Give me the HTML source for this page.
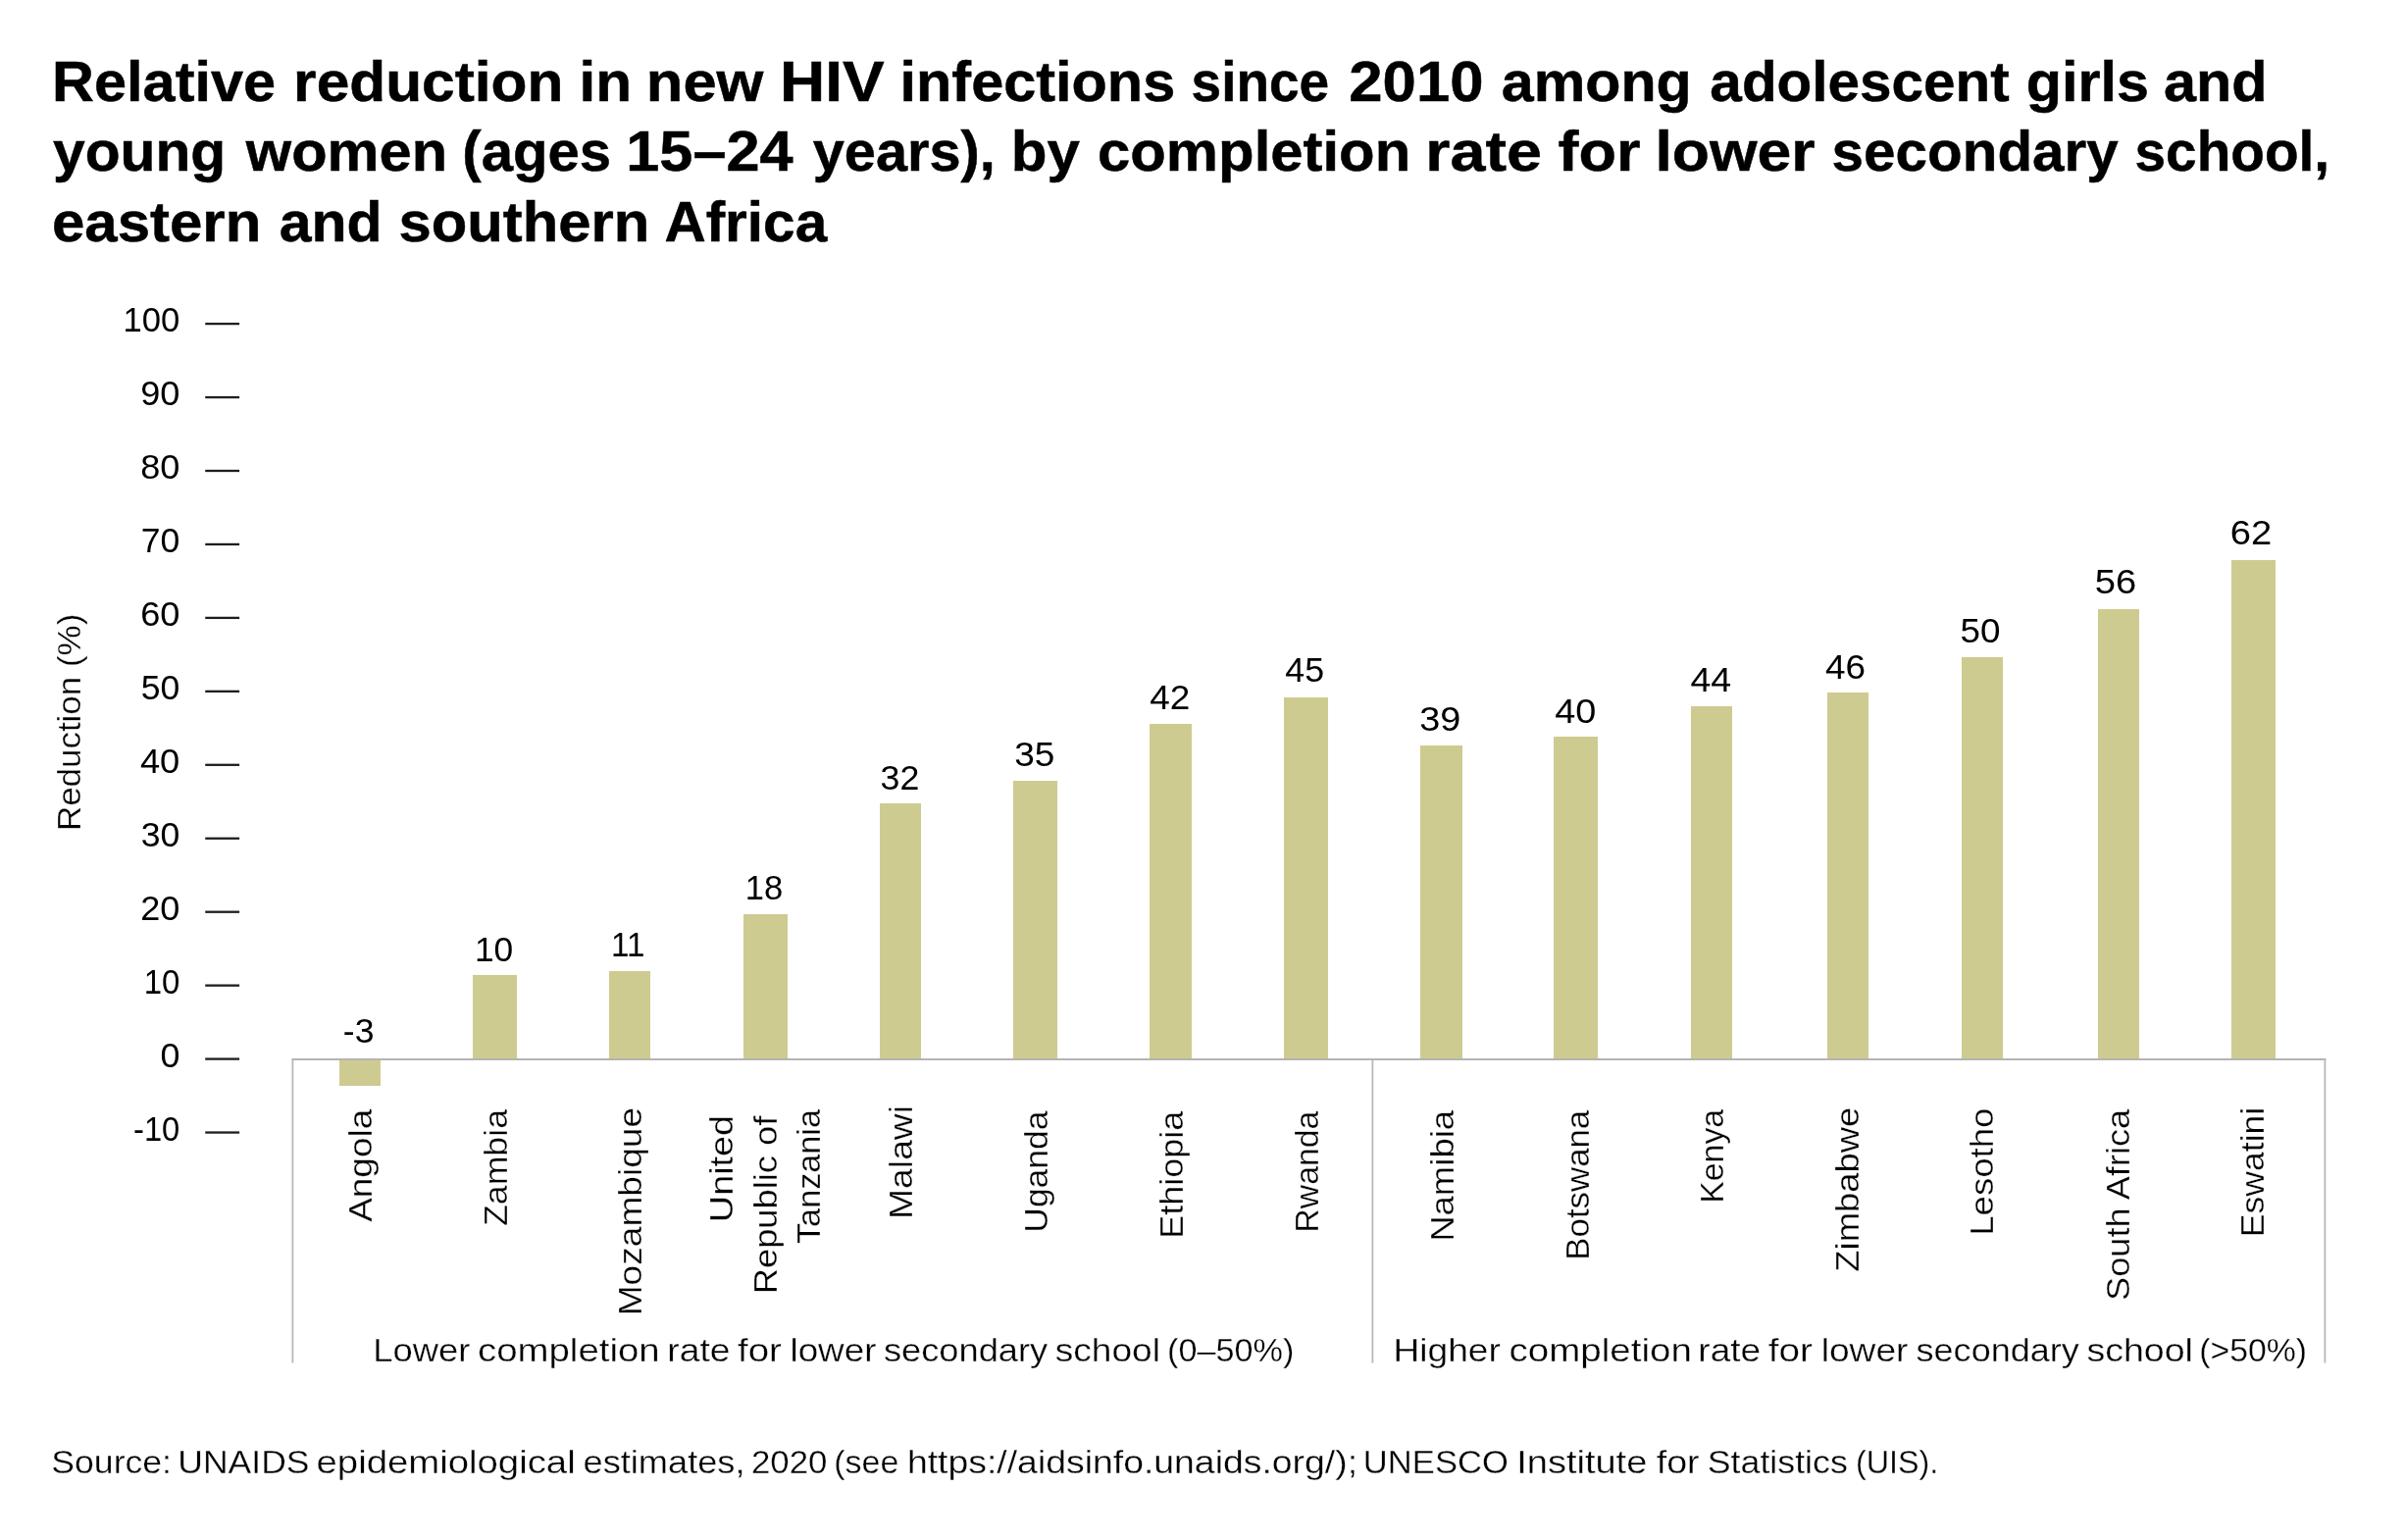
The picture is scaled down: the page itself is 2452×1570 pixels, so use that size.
<!DOCTYPE html>
<html><head><meta charset="utf-8"><title>Relative reduction in new HIV infections</title>
<style>
html,body{margin:0;padding:0;background:#fff;}
body{width:2452px;height:1570px;overflow:hidden;}
svg{display:block;will-change:transform;}
text{font-family:"Liberation Sans", sans-serif;fill:#000;stroke:#fff;stroke-width:0.3px;}
text.b{stroke:#000;stroke-width:0.5px;}
text.d{stroke:none;}
</style></head><body>
<svg width="2452" height="1570" viewBox="0 0 2452 1570">
<rect x="0" y="0" width="2452" height="1570" fill="#fff"/>
<rect x="346" y="1080" width="42" height="27" fill="#cecb90"/>
<rect x="482" y="994" width="45" height="86" fill="#cecb90"/>
<rect x="621" y="990" width="42" height="90" fill="#cecb90"/>
<rect x="758" y="932" width="45" height="148" fill="#cecb90"/>
<rect x="897" y="819" width="42" height="261" fill="#cecb90"/>
<rect x="1033" y="796" width="45" height="284" fill="#cecb90"/>
<rect x="1172" y="738" width="43" height="342" fill="#cecb90"/>
<rect x="1309" y="711" width="45" height="369" fill="#cecb90"/>
<rect x="1448" y="760" width="43" height="320" fill="#cecb90"/>
<rect x="1584" y="751" width="45" height="329" fill="#cecb90"/>
<rect x="1724" y="720" width="42" height="360" fill="#cecb90"/>
<rect x="1863" y="706" width="42" height="374" fill="#cecb90"/>
<rect x="2000" y="670" width="42" height="410" fill="#cecb90"/>
<rect x="2139" y="621" width="42" height="459" fill="#cecb90"/>
<rect x="2275" y="571" width="45" height="509" fill="#cecb90"/>
<rect x="209.25" y="1153.40" width="34.85" height="2.3" fill="#1e1e1e"/>
<rect x="209.25" y="1078.45" width="34.85" height="2.3" fill="#1e1e1e"/>
<rect x="209.25" y="1003.50" width="34.85" height="2.3" fill="#1e1e1e"/>
<rect x="209.25" y="928.55" width="34.85" height="2.3" fill="#1e1e1e"/>
<rect x="209.25" y="853.60" width="34.85" height="2.3" fill="#1e1e1e"/>
<rect x="209.25" y="778.65" width="34.85" height="2.3" fill="#1e1e1e"/>
<rect x="209.25" y="703.70" width="34.85" height="2.3" fill="#1e1e1e"/>
<rect x="209.25" y="628.75" width="34.85" height="2.3" fill="#1e1e1e"/>
<rect x="209.25" y="553.80" width="34.85" height="2.3" fill="#1e1e1e"/>
<rect x="209.25" y="478.85" width="34.85" height="2.3" fill="#1e1e1e"/>
<rect x="209.25" y="403.90" width="34.85" height="2.3" fill="#1e1e1e"/>
<rect x="209.25" y="328.95" width="34.85" height="2.3" fill="#1e1e1e"/>
<rect x="297.5" y="1079" width="2074" height="2" fill="#b4b4b4"/>
<rect x="297.50" y="1080" width="1.8" height="309.5" fill="#b8b8b8"/>
<rect x="1398.50" y="1080" width="1.8" height="309.5" fill="#b8b8b8"/>
<rect x="2369.50" y="1080" width="1.8" height="309.5" fill="#b8b8b8"/>
<text id="t0_0" class="b" x="53.13" y="102.90" font-size="57" font-weight="700" textLength="227.91" lengthAdjust="spacingAndGlyphs">Relative</text>
<text id="t0_1" class="b" x="299.12" y="102.90" font-size="57" font-weight="700" textLength="275.37" lengthAdjust="spacingAndGlyphs">reduction</text>
<text id="t0_2" class="b" x="590.64" y="102.90" font-size="57" font-weight="700" textLength="53.56" lengthAdjust="spacingAndGlyphs">in</text>
<text id="t0_3" class="b" x="658.88" y="102.90" font-size="57" font-weight="700" textLength="119.53" lengthAdjust="spacingAndGlyphs">new</text>
<text id="t0_4" class="b" x="795.03" y="102.90" font-size="57" font-weight="700" textLength="106.59" lengthAdjust="spacingAndGlyphs">HIV</text>
<text id="t0_5" class="b" x="917.52" y="102.90" font-size="57" font-weight="700" textLength="280.73" lengthAdjust="spacingAndGlyphs">infections</text>
<text id="t0_6" class="b" x="1214.56" y="102.90" font-size="57" font-weight="700" textLength="140.68" lengthAdjust="spacingAndGlyphs">since</text>
<text id="t0_7" class="b" x="1375.34" y="102.90" font-size="57" font-weight="700" textLength="137.12" lengthAdjust="spacingAndGlyphs">2010</text>
<text id="t0_8" class="b" x="1530.75" y="102.90" font-size="57" font-weight="700" textLength="193.93" lengthAdjust="spacingAndGlyphs">among</text>
<text id="t0_9" class="b" x="1743.39" y="102.90" font-size="57" font-weight="700" textLength="305.41" lengthAdjust="spacingAndGlyphs">adolescent</text>
<text id="t0_10" class="b" x="2065.89" y="102.90" font-size="57" font-weight="700" textLength="125.18" lengthAdjust="spacingAndGlyphs">girls</text>
<text id="t0_11" class="b" x="2206.11" y="102.90" font-size="57" font-weight="700" textLength="105.48" lengthAdjust="spacingAndGlyphs">and</text>
<text id="t1_0" class="b" x="54.00" y="174.30" font-size="57" font-weight="700" textLength="176.28" lengthAdjust="spacingAndGlyphs">young</text>
<text id="t1_1" class="b" x="250.80" y="174.30" font-size="57" font-weight="700" textLength="205.25" lengthAdjust="spacingAndGlyphs">women</text>
<text id="t1_2" class="b" x="471.33" y="174.30" font-size="57" font-weight="700" textLength="151.76" lengthAdjust="spacingAndGlyphs">(ages</text>
<text id="t1_3" class="b" x="638.32" y="174.30" font-size="57" font-weight="700" textLength="170.29" lengthAdjust="spacingAndGlyphs">15–24</text>
<text id="t1_4" class="b" x="828.78" y="174.30" font-size="57" font-weight="700" textLength="186.09" lengthAdjust="spacingAndGlyphs">years),</text>
<text id="t1_5" class="b" x="1030.80" y="174.30" font-size="57" font-weight="700" textLength="70.20" lengthAdjust="spacingAndGlyphs">by</text>
<text id="t1_6" class="b" x="1118.97" y="174.30" font-size="57" font-weight="700" textLength="319.29" lengthAdjust="spacingAndGlyphs">completion</text>
<text id="t1_7" class="b" x="1453.39" y="174.30" font-size="57" font-weight="700" textLength="118.71" lengthAdjust="spacingAndGlyphs">rate</text>
<text id="t1_8" class="b" x="1588.58" y="174.30" font-size="57" font-weight="700" textLength="84.04" lengthAdjust="spacingAndGlyphs">for</text>
<text id="t1_9" class="b" x="1687.50" y="174.30" font-size="57" font-weight="700" textLength="163.11" lengthAdjust="spacingAndGlyphs">lower</text>
<text id="t1_10" class="b" x="1867.58" y="174.30" font-size="57" font-weight="700" textLength="292.22" lengthAdjust="spacingAndGlyphs">secondary</text>
<text id="t1_11" class="b" x="2176.56" y="174.30" font-size="57" font-weight="700" textLength="198.52" lengthAdjust="spacingAndGlyphs">school,</text>
<text id="t2_0" class="b" x="52.96" y="246.40" font-size="57" font-weight="700" textLength="213.33" lengthAdjust="spacingAndGlyphs">eastern</text>
<text id="t2_1" class="b" x="284.71" y="246.40" font-size="57" font-weight="700" textLength="104.84" lengthAdjust="spacingAndGlyphs">and</text>
<text id="t2_2" class="b" x="406.55" y="246.40" font-size="57" font-weight="700" textLength="255.74" lengthAdjust="spacingAndGlyphs">southern</text>
<text id="t2_3" class="b" x="677.40" y="246.40" font-size="57" font-weight="700" textLength="165.81" lengthAdjust="spacingAndGlyphs">Africa</text>
<text id="yt110" class="d" transform="translate(0 337.85) scale(1 1.100)" x="125.53" y="0" font-size="32" font-weight="400" textLength="57.77" lengthAdjust="spacingAndGlyphs">100</text>
<text id="yt100" class="d" transform="translate(0 412.85) scale(1 1.100)" x="143.21" y="0" font-size="32" font-weight="400" textLength="40.16" lengthAdjust="spacingAndGlyphs">90</text>
<text id="yt90" class="d" transform="translate(0 487.85) scale(1 1.100)" x="143.19" y="0" font-size="32" font-weight="400" textLength="40.16" lengthAdjust="spacingAndGlyphs">80</text>
<text id="yt80" class="d" transform="translate(0 562.85) scale(1 1.100)" x="143.78" y="0" font-size="32" font-weight="400" textLength="39.56" lengthAdjust="spacingAndGlyphs">70</text>
<text id="yt70" class="d" transform="translate(0 637.85) scale(1 1.100)" x="143.15" y="0" font-size="32" font-weight="400" textLength="40.22" lengthAdjust="spacingAndGlyphs">60</text>
<text id="yt60" class="d" transform="translate(0 712.85) scale(1 1.100)" x="143.82" y="0" font-size="32" font-weight="400" textLength="39.51" lengthAdjust="spacingAndGlyphs">50</text>
<text id="yt50" class="d" transform="translate(0 787.85) scale(1 1.100)" x="142.93" y="0" font-size="32" font-weight="400" textLength="40.38" lengthAdjust="spacingAndGlyphs">40</text>
<text id="yt40" class="d" transform="translate(0 862.85) scale(1 1.100)" x="143.80" y="0" font-size="32" font-weight="400" textLength="39.56" lengthAdjust="spacingAndGlyphs">30</text>
<text id="yt30" class="d" transform="translate(0 937.85) scale(1 1.100)" x="143.22" y="0" font-size="32" font-weight="400" textLength="40.12" lengthAdjust="spacingAndGlyphs">20</text>
<text id="yt20" class="d" transform="translate(0 1012.85) scale(1 1.100)" x="146.65" y="0" font-size="32" font-weight="400" textLength="36.69" lengthAdjust="spacingAndGlyphs">10</text>
<text id="yt10" class="d" transform="translate(0 1087.85) scale(1 1.100)" x="163.54" y="0" font-size="32" font-weight="400" textLength="19.92" lengthAdjust="spacingAndGlyphs">0</text>
<text id="yt0" class="d" transform="translate(0 1162.85) scale(1 1.100)" x="136.05" y="0" font-size="32" font-weight="400" textLength="47.24" lengthAdjust="spacingAndGlyphs">-10</text>
<text id="v0" class="d" transform="translate(0 1063.40) scale(1 1.100)" x="349.84" y="0" font-size="32" font-weight="400" textLength="31.64" lengthAdjust="spacingAndGlyphs">-3</text>
<text id="v1" class="d" transform="translate(0 979.80) scale(1 1.100)" x="483.99" y="0" font-size="32" font-weight="400" textLength="39.29" lengthAdjust="spacingAndGlyphs">10</text>
<text id="v2" class="d" transform="translate(0 974.80) scale(1 1.100)" x="622.96" y="0" font-size="32" font-weight="400" textLength="34.38" lengthAdjust="spacingAndGlyphs">11</text>
<text id="v3" class="d" transform="translate(0 916.70) scale(1 1.100)" x="759.82" y="0" font-size="32" font-weight="400" textLength="38.46" lengthAdjust="spacingAndGlyphs">18</text>
<text id="v4" class="d" transform="translate(0 804.70) scale(1 1.100)" x="897.59" y="0" font-size="32" font-weight="400" textLength="39.78" lengthAdjust="spacingAndGlyphs">32</text>
<text id="v5" class="d" transform="translate(0 781.00) scale(1 1.100)" x="1034.19" y="0" font-size="32" font-weight="400" textLength="41.21" lengthAdjust="spacingAndGlyphs">35</text>
<text id="v6" class="d" transform="translate(0 722.90) scale(1 1.100)" x="1172.31" y="0" font-size="32" font-weight="400" textLength="41.09" lengthAdjust="spacingAndGlyphs">42</text>
<text id="v7" class="d" transform="translate(0 694.90) scale(1 1.100)" x="1310.34" y="0" font-size="32" font-weight="400" textLength="39.83" lengthAdjust="spacingAndGlyphs">45</text>
<text id="v8" class="d" transform="translate(0 745.30) scale(1 1.100)" x="1447.36" y="0" font-size="32" font-weight="400" textLength="42.04" lengthAdjust="spacingAndGlyphs">39</text>
<text id="v9" class="d" transform="translate(0 737.40) scale(1 1.100)" x="1585.29" y="0" font-size="32" font-weight="400" textLength="42.07" lengthAdjust="spacingAndGlyphs">40</text>
<text id="v10" class="d" transform="translate(0 704.90) scale(1 1.100)" x="1723.49" y="0" font-size="32" font-weight="400" textLength="41.79" lengthAdjust="spacingAndGlyphs">44</text>
<text id="v11" class="d" transform="translate(0 692.40) scale(1 1.100)" x="1860.93" y="0" font-size="32" font-weight="400" textLength="41.01" lengthAdjust="spacingAndGlyphs">46</text>
<text id="v12" class="d" transform="translate(0 655.20) scale(1 1.100)" x="1998.58" y="0" font-size="32" font-weight="400" textLength="40.96" lengthAdjust="spacingAndGlyphs">50</text>
<text id="v13" class="d" transform="translate(0 604.50) scale(1 1.100)" x="2135.77" y="0" font-size="32" font-weight="400" textLength="42.40" lengthAdjust="spacingAndGlyphs">56</text>
<text id="v14" class="d" transform="translate(0 555.40) scale(1 1.100)" x="2273.76" y="0" font-size="32" font-weight="400" textLength="42.47" lengthAdjust="spacingAndGlyphs">62</text>
<text id="c0" transform="translate(379.30 1245.82) rotate(-90)" x="0" y="0" font-size="33" font-weight="400" textLength="115.02" lengthAdjust="spacingAndGlyphs">Angola</text>
<text id="c1" transform="translate(516.60 1250.02) rotate(-90)" x="0" y="0" font-size="33" font-weight="400" textLength="119.02" lengthAdjust="spacingAndGlyphs">Zambia</text>
<text id="c2" transform="translate(654.30 1341.28) rotate(-90)" x="0" y="0" font-size="33" font-weight="400" textLength="212.32" lengthAdjust="spacingAndGlyphs">Mozambique</text>
<text id="c4" transform="translate(929.90 1242.94) rotate(-90)" x="0" y="0" font-size="33" font-weight="400" textLength="116.03" lengthAdjust="spacingAndGlyphs">Malawi</text>
<text id="c5" transform="translate(1068.30 1256.67) rotate(-90)" x="0" y="0" font-size="33" font-weight="400" textLength="124.07" lengthAdjust="spacingAndGlyphs">Uganda</text>
<text id="c6" transform="translate(1206.30 1262.85) rotate(-90)" x="0" y="0" font-size="33" font-weight="400" textLength="130.26" lengthAdjust="spacingAndGlyphs">Ethiopia</text>
<text id="c7" transform="translate(1344.00 1256.65) rotate(-90)" x="0" y="0" font-size="33" font-weight="400" textLength="124.04" lengthAdjust="spacingAndGlyphs">Rwanda</text>
<text id="c8" transform="translate(1481.70 1265.87) rotate(-90)" x="0" y="0" font-size="33" font-weight="400" textLength="134.07" lengthAdjust="spacingAndGlyphs">Namibia</text>
<text id="c9" transform="translate(1619.60 1284.64) rotate(-90)" x="0" y="0" font-size="33" font-weight="400" textLength="152.85" lengthAdjust="spacingAndGlyphs">Botswana</text>
<text id="c10" transform="translate(1756.80 1226.87) rotate(-90)" x="0" y="0" font-size="33" font-weight="400" textLength="96.08" lengthAdjust="spacingAndGlyphs">Kenya</text>
<text id="c11" transform="translate(1895.00 1296.63) rotate(-90)" x="0" y="0" font-size="33" font-weight="400" textLength="167.87" lengthAdjust="spacingAndGlyphs">Zimbabwe</text>
<text id="c12" transform="translate(2032.30 1259.73) rotate(-90)" x="0" y="0" font-size="33" font-weight="400" textLength="130.01" lengthAdjust="spacingAndGlyphs">Lesotho</text>
<text id="c13" transform="translate(2170.50 1326.02) rotate(-90)" x="0" y="0" font-size="33" font-weight="400" textLength="195.22" lengthAdjust="spacingAndGlyphs">South Africa</text>
<text id="c14" transform="translate(2307.70 1261.13) rotate(-90)" x="0" y="0" font-size="33" font-weight="400" textLength="132.42" lengthAdjust="spacingAndGlyphs">Eswatini</text>
<text id="tz0" transform="translate(746.60 1246.15) rotate(-90)" x="0" y="0" font-size="33" font-weight="400" textLength="109.26" lengthAdjust="spacingAndGlyphs">United</text>
<text id="tz1" transform="translate(791.50 1319.25) rotate(-90)" x="0" y="0" font-size="33" font-weight="400" textLength="181.64" lengthAdjust="spacingAndGlyphs">Republic of</text>
<text id="tz2" transform="translate(836.40 1268.01) rotate(-90)" x="0" y="0" font-size="33" font-weight="400" textLength="137.01" lengthAdjust="spacingAndGlyphs">Tanzania</text>
<text id="g0_0" x="380.23" y="1388.40" font-size="33" font-weight="400" textLength="99.23" lengthAdjust="spacingAndGlyphs">Lower</text>
<text id="g0_1" x="486.94" y="1388.40" font-size="33" font-weight="400" textLength="185.74" lengthAdjust="spacingAndGlyphs">completion</text>
<text id="g0_2" x="680.33" y="1388.40" font-size="33" font-weight="400" textLength="64.25" lengthAdjust="spacingAndGlyphs">rate</text>
<text id="g0_3" x="751.98" y="1388.40" font-size="33" font-weight="400" textLength="44.87" lengthAdjust="spacingAndGlyphs">for</text>
<text id="g0_4" x="805.46" y="1388.40" font-size="33" font-weight="400" textLength="87.99" lengthAdjust="spacingAndGlyphs">lower</text>
<text id="g0_5" x="900.98" y="1388.40" font-size="33" font-weight="400" textLength="167.23" lengthAdjust="spacingAndGlyphs">secondary</text>
<text id="g0_6" x="1075.74" y="1388.40" font-size="33" font-weight="400" textLength="107.21" lengthAdjust="spacingAndGlyphs">school</text>
<text id="g0_7" x="1190.09" y="1388.40" font-size="33" font-weight="400" textLength="129.21" lengthAdjust="spacingAndGlyphs">(0–50%)</text>
<text id="g1_0" x="1420.48" y="1388.40" font-size="33" font-weight="400" textLength="109.37" lengthAdjust="spacingAndGlyphs">Higher</text>
<text id="g1_1" x="1538.55" y="1388.40" font-size="33" font-weight="400" textLength="186.32" lengthAdjust="spacingAndGlyphs">completion</text>
<text id="g1_2" x="1731.36" y="1388.40" font-size="33" font-weight="400" textLength="63.81" lengthAdjust="spacingAndGlyphs">rate</text>
<text id="g1_3" x="1802.77" y="1388.40" font-size="33" font-weight="400" textLength="45.26" lengthAdjust="spacingAndGlyphs">for</text>
<text id="g1_4" x="1856.68" y="1388.40" font-size="33" font-weight="400" textLength="88.78" lengthAdjust="spacingAndGlyphs">lower</text>
<text id="g1_5" x="1953.57" y="1388.40" font-size="33" font-weight="400" textLength="166.25" lengthAdjust="spacingAndGlyphs">secondary</text>
<text id="g1_6" x="2127.51" y="1388.40" font-size="33" font-weight="400" textLength="108.41" lengthAdjust="spacingAndGlyphs">school</text>
<text id="g1_7" x="2242.28" y="1388.40" font-size="33" font-weight="400" textLength="109.84" lengthAdjust="spacingAndGlyphs">(&gt;50%)</text>
<text id="yax" transform="translate(82.40 847.09) rotate(-90)" x="0" y="0" font-size="33" font-weight="400" textLength="221.36" lengthAdjust="spacingAndGlyphs">Reduction (%)</text>
<text id="s_0" x="52.30" y="1501.80" font-size="33" font-weight="400" textLength="122.70" lengthAdjust="spacingAndGlyphs">Source:</text>
<text id="s_1" x="181.30" y="1501.80" font-size="33" font-weight="400" textLength="134.16" lengthAdjust="spacingAndGlyphs">UNAIDS</text>
<text id="s_2" x="322.55" y="1501.80" font-size="33" font-weight="400" textLength="264.12" lengthAdjust="spacingAndGlyphs">epidemiological</text>
<text id="s_3" x="594.53" y="1501.80" font-size="33" font-weight="400" textLength="164.99" lengthAdjust="spacingAndGlyphs">estimates,</text>
<text id="s_4" x="765.91" y="1501.80" font-size="33" font-weight="400" textLength="77.60" lengthAdjust="spacingAndGlyphs">2020</text>
<text id="s_5" x="850.26" y="1501.80" font-size="33" font-weight="400" textLength="66.07" lengthAdjust="spacingAndGlyphs">(see</text>
<text id="s_6" x="924.95" y="1501.80" font-size="33" font-weight="400" textLength="459.11" lengthAdjust="spacingAndGlyphs">https://aidsinfo.unaids.org/);</text>
<text id="s_7" x="1389.89" y="1501.80" font-size="33" font-weight="400" textLength="147.98" lengthAdjust="spacingAndGlyphs">UNESCO</text>
<text id="s_8" x="1546.24" y="1501.80" font-size="33" font-weight="400" textLength="133.05" lengthAdjust="spacingAndGlyphs">Institute</text>
<text id="s_9" x="1688.74" y="1501.80" font-size="33" font-weight="400" textLength="43.90" lengthAdjust="spacingAndGlyphs">for</text>
<text id="s_10" x="1740.73" y="1501.80" font-size="33" font-weight="400" textLength="143.12" lengthAdjust="spacingAndGlyphs">Statistics</text>
<text id="s_11" x="1891.88" y="1501.80" font-size="33" font-weight="400" textLength="84.34" lengthAdjust="spacingAndGlyphs">(UIS).</text>
</svg>
</body></html>
